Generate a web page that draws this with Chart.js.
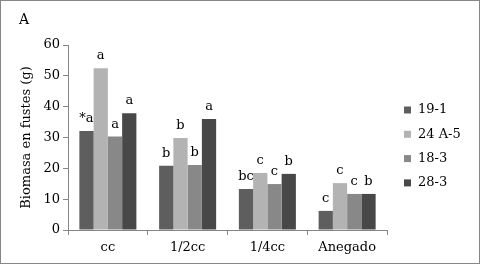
<!DOCTYPE html>
<html>
<head>
<meta charset="utf-8">
<script src="https://cdn.jsdelivr.net/npm/chart.js@4/dist/chart.umd.min.js"></script>
<style>
  html, body { margin: 0; padding: 0; background: #fff; }
</style>
</head>
<body>
<canvas id="biomasa" width="480" height="265"></canvas>
<script>
  // Biomasa en fustes (g) por tratamiento
  const categorias = ["cc", "1/2cc", "1/4cc", "Anegado"];
  const series = ["19-1", "24 A-5", "18-3", "28-3"];
  const valores19_1 = [32.1, 20.8, 13.3, 6.2];
  const valores24_A5 = [52.5, 29.8, 18.5, 15.2];
  const valores18_3 = [30.3, 21.1, 14.9, 11.7];
  const valores28_3 = [37.9, 36.0, 18.2, 11.7];
  const letras19_1 = ["*a", "b", "bc", "c"];
  const letras24_A5 = ["a", "b", "c", "c"];
  const letras18_3 = ["a", "b", "c", "c"];
  const letras28_3 = ["a", "a", "b", "b"];
  const colores = ["#5e5e5e", "#b3b3b3", "#888888", "#484848"];
  const yMin = 0, yMax = 60, yPaso = 10;

  const fuente = "'DejaVu Serif', 'Liberation Serif', serif";
  const valores = [valores19_1, valores24_A5, valores18_3, valores28_3];
  const letras = [letras19_1, letras24_A5, letras18_3, letras28_3];

  const data = {
    labels: categorias,
    datasets: series.map(function(nombre, i) {
      return {
        label: nombre,
        data: valores[i],
        letras: letras[i],
        backgroundColor: colores[i],
        borderWidth: 0,
        categoryPercentage: 0.715,
        barPercentage: 1.0
      };
    })
  };

  // letras de significancia, leyenda, marco y "A"
  const extras = {
    id: "extras",
    beforeDraw: function(chart) {
      const ctx = chart.ctx;
      ctx.save();
      ctx.fillStyle = "#fff";
      ctx.fillRect(0, 0, chart.width, chart.height);
      ctx.restore();
    },
    afterDatasetsDraw: function(chart) {
      const ctx = chart.ctx;
      ctx.save();
      ctx.font = "13px " + fuente;
      ctx.fillStyle = "#000";
      ctx.textAlign = "center";
      ctx.textBaseline = "alphabetic";
      chart.data.datasets.forEach(function(ds, i) {
        chart.getDatasetMeta(i).data.forEach(function(bar, j) {
          ctx.fillText(ds.letras[j], bar.x, bar.y - 9);
        });
      });
      ctx.restore();
    },
    afterDraw: function(chart) {
      const ctx = chart.ctx;
      ctx.save();
      ctx.strokeStyle = "#868686";
      ctx.lineWidth = 1;
      ctx.strokeRect(0.5, 0.5, chart.width - 1, chart.height - 2);
      ctx.fillStyle = "#000";
      ctx.font = "14px " + fuente;
      ctx.textBaseline = "alphabetic";
      ctx.textAlign = "left";
      ctx.fillText("A", 19, 24);
      // leyenda
      ctx.font = "13px " + fuente;
      ctx.textBaseline = "middle";
      chart.data.datasets.forEach(function(ds, i) {
        const y = 110 + i * 24.3;
        ctx.fillStyle = ds.backgroundColor;
        ctx.fillRect(404, y - 3.5, 7, 7);
        ctx.fillStyle = "#000";
        ctx.fillText(ds.label, 418, y);
      });
      ctx.restore();
    }
  };

  const options = {
    responsive: false,
    animation: false,
    layout: {
      padding: { top: 45, right: 93, left: 0, bottom: 0 }
    },
    scales: {
      x: {
        grid: {
          drawOnChartArea: false,
          tickLength: 5,
          color: "#868686"
        },
        border: { color: "#868686" },
        ticks: {
          color: "#000",
          padding: 5,
          font: { family: fuente, size: 13 }
        },
        afterFit: function(scale) { scale.height = 35; }
      },
      y: {
        min: yMin,
        max: yMax,
        ticks: {
          stepSize: yPaso,
          color: "#000",
          padding: 3,
          font: { family: fuente, size: 13 }
        },
        grid: {
          drawOnChartArea: false,
          tickLength: 5,
          color: "#868686"
        },
        border: { color: "#868686" },
        title: {
          display: true,
          text: "Biomasa en fustes (g)",
          color: "#000",
          padding: { top: 19, bottom: 0 },
          font: { family: fuente, size: 13 }
        },
        afterFit: function(scale) { scale.width = 68; }
      }
    },
    plugins: {
      legend: { display: false },
      tooltip: { enabled: false }
    }
  };

  const ctx = document.getElementById("biomasa").getContext("2d");
  new Chart(ctx, {
    type: "bar",
    data: data,
    options: options,
    plugins: [extras]
  });
</script>
</body>
</html>
